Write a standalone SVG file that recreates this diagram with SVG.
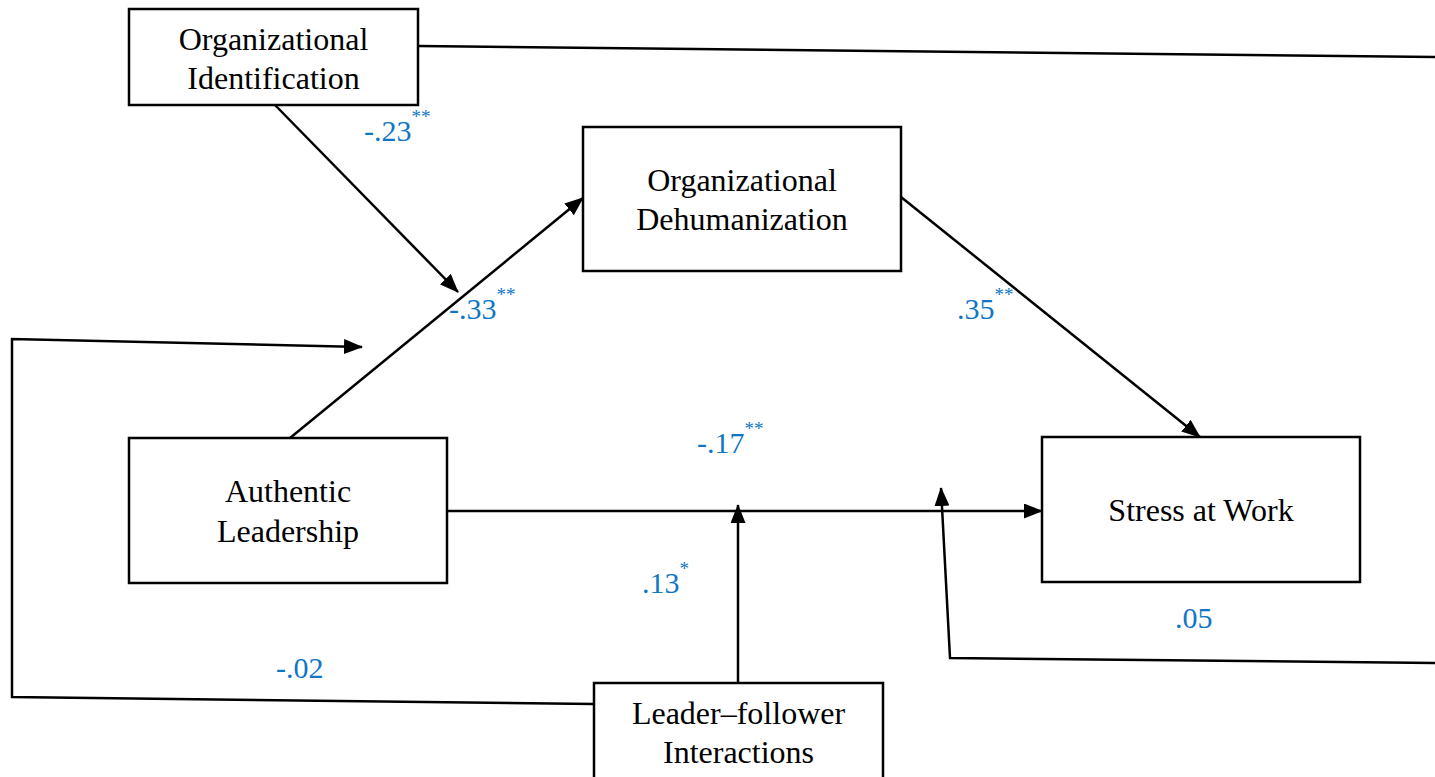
<svg xmlns="http://www.w3.org/2000/svg" width="1435" height="777" viewBox="0 0 1435 777">
<style>
.box{fill:#fff;stroke:#000;stroke-width:2.5}
.t{font-family:"Liberation Serif","Times New Roman",serif;font-size:32px;fill:#000;text-anchor:middle}
.c{font-family:"Liberation Serif","Times New Roman",serif;font-size:30px;fill:#0f76c6}
.s{font-size:19px}
.ln{fill:none;stroke:#000;stroke-width:2.5}
</style>
<defs>
<marker id="ah" markerWidth="19" markerHeight="15" refX="18" refY="7.5" orient="auto" markerUnits="userSpaceOnUse">
<path d="M0,0 L19,7.5 L0,15 Z" fill="#000"/>
</marker>
</defs>
<g id="connectors">
<path class="ln" d="M418,46 L1435,57"/>
<path class="ln" d="M275,105 L458,292" marker-end="url(#ah)"/>
<path class="ln" d="M290,438 L583,198" marker-end="url(#ah)"/>
<path class="ln" d="M901,197 L1200,437" marker-end="url(#ah)"/>
<path class="ln" d="M447,511 L1042,511" marker-end="url(#ah)"/>
<path class="ln" d="M738,683 L738,505" marker-end="url(#ah)"/>
<path class="ln" d="M594,704 L12,697 L12,339 L362,347" marker-end="url(#ah)"/>
<path class="ln" d="M1435,663 L950,658 L941,488" marker-end="url(#ah)"/>
</g>
<g id="labels">
<text class="c" x="364" y="141">-.23<tspan class="s" dy="-18">**</tspan></text>
<text class="c" x="449" y="319">-.33<tspan class="s" dy="-18">**</tspan></text>
<text class="c" x="957" y="319">.35<tspan class="s" dy="-18">**</tspan></text>
<text class="c" x="697" y="453">-.17<tspan class="s" dy="-18">**</tspan></text>
<text class="c" x="642" y="593">.13<tspan class="s" dy="-18">*</tspan></text>
<text class="c" x="1175" y="628">.05</text>
<text class="c" x="276" y="678">-.02</text>
</g>
<g id="org-identification">
<rect class="box" x="129" y="9" width="289" height="96"/>
<text class="t" x="273.5" y="50">Organizational</text>
<text class="t" x="273.5" y="89">Identification</text>
</g>
<g id="org-dehumanization">
<rect class="box" x="583" y="127" width="318" height="144"/>
<text class="t" x="742" y="191">Organizational</text>
<text class="t" x="742" y="230">Dehumanization</text>
</g>
<g id="authentic-leadership">
<rect class="box" x="129" y="438" width="318" height="145"/>
<text class="t" x="288" y="502">Authentic</text>
<text class="t" x="288" y="542">Leadership</text>
</g>
<g id="stress-at-work">
<rect class="box" x="1042" y="437" width="318" height="145"/>
<text class="t" x="1201" y="521">Stress at Work</text>
</g>
<g id="leader-follower">
<rect class="box" x="594" y="683" width="289" height="100"/>
<text class="t" x="738.5" y="724">Leader–follower</text>
<text class="t" x="738.5" y="763">Interactions</text>
</g>
</svg>
